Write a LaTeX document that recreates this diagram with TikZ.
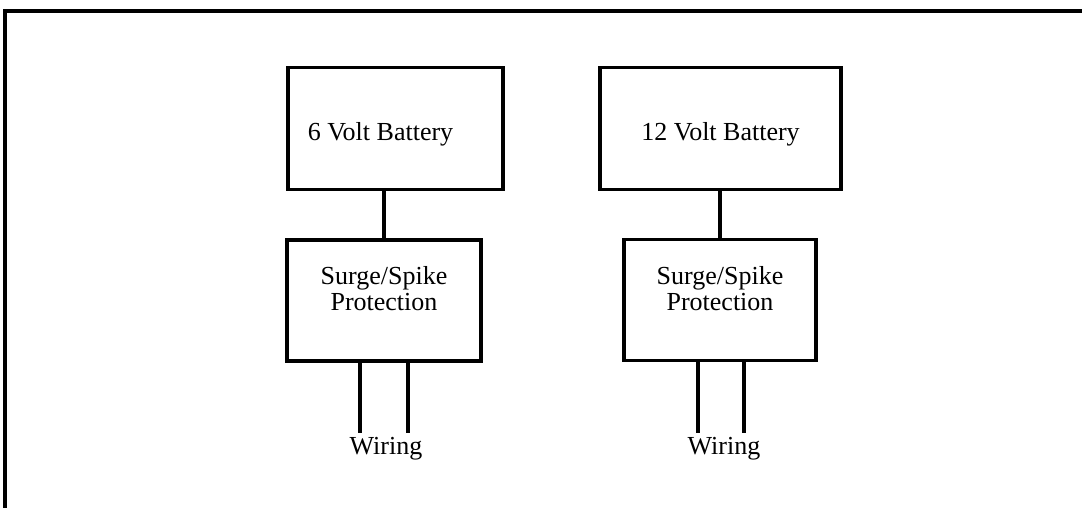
\documentclass[tikz,border=0pt]{standalone}
\usepackage{fontspec}
\setmainfont{Liberation Serif}
\begin{document}
\begin{tikzpicture}[
    x=1pt, y=-1pt,
    box/.style={draw, line width=3.2pt, inner sep=0pt, align=center, font=\fontsize{26}{26}\selectfont},
    batbox/.style={box, text height=30pt, text depth=6pt, minimum height=122pt},
    spbox/.style={box, text depth=24pt, minimum height=121pt},
    wire/.style={line width=3.2pt},
    lbl/.style={inner xsep=0pt, inner ysep=4pt, font=\fontsize{26}{27}\selectfont}
]
    \useasboundingbox (0,0) rectangle (1082,508);
    \draw[line width=4.2pt] (5,508) -- (5,11) -- (1082,11);
    % batteries
    \node[batbox, minimum width=215pt] (bat6) at (395.5,128.5) {6 Volt Battery\hspace*{30pt}};
    \node[batbox, minimum width=241pt] (bat12) at (720.5,128.5) {12 Volt Battery};
    % protection
    \node[spbox, minimum width=194pt] (sp6) at (384,300.5) {Surge/Spike\\Protection};
    \node[spbox, minimum width=192pt] (sp12) at (720,300) {Surge/Spike\\Protection};
    \node[lbl] (wir6) at (386,449) {Wiring};
    \node[lbl] (wir12) at (724,449) {Wiring};
    \draw[wire] (bat6.south -| sp6.north) -- (sp6.north);
    \draw[wire] (bat12.south -| sp12.north) -- (sp12.north);
    \draw[wire] ([xshift=-24pt]sp6.south) -- ([xshift=-24pt]sp6.south |- wir6.north);
    \draw[wire] ([xshift=24pt]sp6.south) -- ([xshift=24pt]sp6.south |- wir6.north);
    \draw[wire] ([xshift=-22pt]sp12.south) -- ([xshift=-22pt]sp12.south |- wir12.north);
    \draw[wire] ([xshift=24pt]sp12.south) -- ([xshift=24pt]sp12.south |- wir12.north);
\end{tikzpicture}
\end{document}
